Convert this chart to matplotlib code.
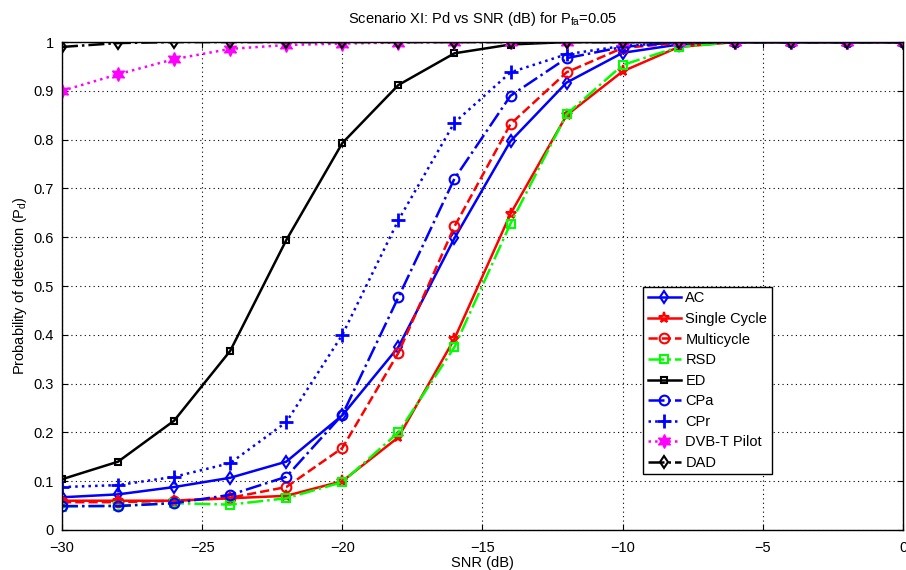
import matplotlib
matplotlib.use("Agg")
import matplotlib.pyplot as plt

plt.rcParams['font.family'] = ['Liberation Sans', 'DejaVu Sans']
plt.rcParams['mathtext.default'] = 'regular'

snr = [-30, -28, -26, -24, -22, -20, -18, -16, -14, -12, -10, -8, -6, -4, -2, 0]

ac = [0.067, 0.073, 0.088, 0.107, 0.140, 0.235, 0.375, 0.598, 0.797, 0.917, 0.978, 0.995, 1, 1, 1, 1]
single_cycle = [0.060, 0.060, 0.060, 0.065, 0.070, 0.100, 0.190, 0.392, 0.648, 0.850, 0.940, 0.990, 1, 1, 1, 1]
multicycle = [0.057, 0.057, 0.060, 0.066, 0.088, 0.168, 0.363, 0.622, 0.832, 0.938, 0.988, 0.998, 1, 1, 1, 1]
rsd = [0.048, 0.050, 0.055, 0.052, 0.065, 0.098, 0.200, 0.375, 0.628, 0.852, 0.953, 0.990, 1, 1, 1, 1]
ed = [0.104, 0.140, 0.224, 0.367, 0.594, 0.793, 0.912, 0.977, 0.995, 1, 1, 1, 1, 1, 1, 1]
cpa = [0.049, 0.049, 0.055, 0.072, 0.109, 0.236, 0.477, 0.720, 0.890, 0.967, 0.990, 1, 1, 1, 1, 1]
cpr = [0.088, 0.092, 0.109, 0.137, 0.221, 0.400, 0.635, 0.835, 0.938, 0.975, 0.992, 1, 1, 1, 1, 1]
dvbt = [0.900, 0.934, 0.965, 0.986, 0.994, 0.997, 0.999, 1, 1, 1, 1, 1, 1, 1, 1, 1]
dad = [0.990, 0.998, 1, 1, 1, 1, 1, 1, 1, 1, 1, 1, 1, 1, 1, 1]

fig = plt.figure(figsize=(9.06, 5.70), dpi=100)
ax = fig.add_axes([0.0684, 0.0702, 0.9283, 0.856])

lw = 1.8
ax.plot(snr, ac, '-', color='b', lw=lw, marker='d', ms=6, mfc='none', mew=1.5, label='AC')
ax.plot(snr, single_cycle, '-', color='r', lw=lw, marker='*', ms=8, mfc='none', mew=1.5, label='Single Cycle')
ax.plot(snr, multicycle, '--', color='r', lw=lw, marker='o', ms=7, mfc='none', mew=1.5, label='Multicycle')
ax.plot(snr, rsd, '-.', color=(0, 1, 0), lw=lw, marker='s', ms=6, mfc='none', mew=1.5, label='RSD')
ax.plot(snr, ed, '-', color='k', lw=lw, marker='s', ms=5, mfc='none', mew=1.5, label='ED')
ax.plot(snr, cpa, '-.', color='b', lw=lw, marker='o', ms=7, mfc='none', mew=1.5, label='CPa')
ax.plot(snr, cpr, ':', color='b', lw=lw, marker='+', ms=10, mew=2, label='CPr')
ax.plot(snr, dvbt, ':', color=(1, 0, 1), lw=lw, marker=(6, 1, 0), ms=10, mfc=(1, 0, 1), label='DVB-T Pilot')
ax.plot(snr, dad, '-.', color='k', lw=lw, marker='d', ms=6, mfc='none', mew=1.5, label='DAD')

ax.set_xlim(-30, 0)
ax.set_ylim(0, 1)
ax.set_xticks([-30, -25, -20, -15, -10, -5, 0])
ax.set_yticks([i / 10 for i in range(11)])
ax.set_yticklabels(['0', '0.1', '0.2', '0.3', '0.4', '0.5', '0.6', '0.7', '0.8', '0.9', '1'])
ax.grid(True, color='k', linestyle=(0, (1, 3)), lw=0.8)
ax.tick_params(direction='in', labelsize=10.5, length=4, top=True, right=True)
ax.tick_params(axis='x', pad=8)
ax.tick_params(axis='y', pad=6)
for s in ax.spines.values():
    s.set_linewidth(1.0)

ax.set_xlabel('SNR (dB)', fontsize=10.5, labelpad=1)
ax.set_ylabel('Probability of detection (P$_d$)', fontsize=10.5, labelpad=3)
ax.set_title('Scenario XI: Pd vs SNR (dB) for P$_{fa}$=0.05', fontsize=10.5, pad=14)

leg = ax.legend(loc='upper left', bbox_to_anchor=(0.691, 0.498), fontsize=10.5,
                fancybox=False, edgecolor='k', framealpha=1, borderpad=0.3,
                labelspacing=0.45, handlelength=2.3, handletextpad=0.3, borderaxespad=0)
leg.get_frame().set_linewidth(1.0)

fig.savefig('out.png', dpi=100)
